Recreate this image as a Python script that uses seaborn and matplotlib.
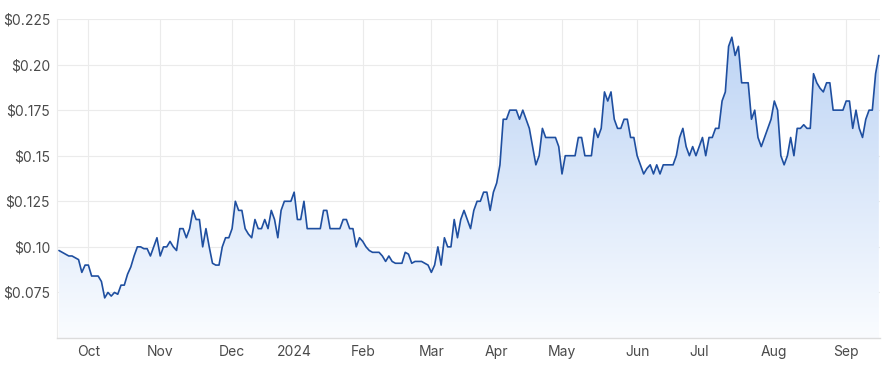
import numpy as np
import pandas as pd
import matplotlib
matplotlib.use("Agg")
import matplotlib.pyplot as plt
import seaborn as sns
from matplotlib.colors import LinearSegmentedColormap

# ---- data ----
start_date = "2023-09-19"
end_date = "2024-09-16"
asx_holidays = ["2023-12-25", "2023-12-26", "2024-01-01", "2024-01-26",
                "2024-03-29", "2024-04-01", "2024-04-25", "2024-06-10"]

prices = [
    0.098, 0.097, 0.096, 0.095, 0.095, 0.094, 0.093, 0.086, 0.090, 0.090,
    0.084, 0.084, 0.084, 0.081, 0.072, 0.075, 0.073, 0.075, 0.074, 0.079,
    0.079, 0.085, 0.089, 0.095, 0.100, 0.100, 0.099, 0.099, 0.095, 0.100,
    0.105, 0.095, 0.100, 0.100, 0.103, 0.100, 0.098, 0.110, 0.110, 0.105,
    0.110, 0.120, 0.115, 0.115, 0.100, 0.110, 0.100, 0.091, 0.090, 0.090,
    0.100, 0.105, 0.105, 0.110, 0.125, 0.120, 0.120, 0.110, 0.107, 0.105,
    0.115, 0.110, 0.110, 0.115, 0.110, 0.120, 0.115, 0.105, 0.120, 0.125,
    0.125, 0.125, 0.130, 0.115, 0.115, 0.125, 0.110, 0.110, 0.110, 0.110,
    0.110, 0.120, 0.120, 0.110, 0.110, 0.110, 0.110, 0.115, 0.115, 0.110,
    0.110, 0.100, 0.105, 0.103, 0.100, 0.098, 0.097, 0.097, 0.097, 0.095,
    0.092, 0.095, 0.092, 0.091, 0.091, 0.091, 0.097, 0.096, 0.091, 0.092,
    0.092, 0.092, 0.091, 0.090, 0.086, 0.090, 0.100, 0.090, 0.105, 0.100,
    0.100, 0.115, 0.105, 0.115, 0.120, 0.115, 0.110, 0.120, 0.125, 0.125,
    0.130, 0.130, 0.120, 0.130, 0.135, 0.145, 0.170, 0.170, 0.175, 0.175,
    0.175, 0.170, 0.175, 0.170, 0.165, 0.155, 0.145, 0.150, 0.165, 0.160,
    0.160, 0.160, 0.160, 0.155, 0.140, 0.150, 0.150, 0.150, 0.150, 0.160,
    0.160, 0.150, 0.150, 0.150, 0.165, 0.160, 0.165, 0.185, 0.180, 0.185,
    0.170, 0.165, 0.165, 0.170, 0.170, 0.160, 0.160, 0.150, 0.145, 0.140,
    0.143, 0.145, 0.140, 0.145, 0.140, 0.145, 0.145, 0.145, 0.145, 0.150,
    0.160, 0.165, 0.155, 0.150, 0.155, 0.150, 0.155, 0.160, 0.150, 0.160,
    0.160, 0.165, 0.165, 0.180, 0.185, 0.210, 0.215, 0.205, 0.210, 0.190,
    0.190, 0.190, 0.170, 0.175, 0.160, 0.155, 0.160, 0.165, 0.170, 0.180,
    0.175, 0.150, 0.145, 0.150, 0.160, 0.150, 0.165, 0.165, 0.167, 0.165,
    0.165, 0.195, 0.190, 0.187, 0.185, 0.190, 0.190, 0.175, 0.175, 0.175,
    0.175, 0.180, 0.180, 0.165, 0.175, 0.165, 0.160, 0.170, 0.175, 0.175,
    0.195, 0.205,
]

y_ticks = [0.075, 0.10, 0.125, 0.15, 0.175, 0.20, 0.225]
y_tick_labels = ["$0.075", "$0.10", "$0.125", "$0.15", "$0.175", "$0.20", "$0.225"]

# ---- build frame ----
dates = pd.bdate_range(start_date, end_date)
dates = dates[~dates.isin(pd.to_datetime(asx_holidays))]
n = min(len(dates), len(prices))
df = pd.DataFrame({"date": dates[:n], "price": prices[:n]})
df["idx"] = np.arange(n)

# month-start tick positions (first trading day of each month)
first_days = df.groupby([df.date.dt.year, df.date.dt.month]).head(1)
first_days = first_days[first_days.idx > 0]
x_ticks = first_days.idx.tolist()
x_labels = [str(d.year) if d.month == 1 else d.strftime("%b") for d in first_days.date]

# ---- style ----
sns.set_theme(style="white")
plt.rcParams["font.family"] = ["Inter", "DejaVu Sans"]

fig = plt.figure(figsize=(8.85, 3.65), dpi=100)
ax = fig.add_axes([57 / 885, 27 / 365, 823 / 885, 319 / 365])

y_min, y_max = 0.05, 0.225
x_min, x_max = -0.6, n - 1 + 0.35

# gradient fill under the line
poly = ax.fill_between(df.idx, df.price, y_min, color="none", lw=0)
cmap = LinearSegmentedColormap.from_list("g", ["#fafcff", "#bad2f4"])
grad = np.linspace(0, 1, 256).reshape(-1, 1)
img = ax.imshow(grad, extent=[x_min, x_max, y_min, y_max], origin="lower",
                aspect="auto", cmap=cmap, zorder=1, interpolation="bicubic")
img.set_clip_path(poly.get_paths()[0], ax.transData)

sns.lineplot(data=df, x="idx", y="price", ax=ax, color="#1f4fa0",
             linewidth=1.2, zorder=3)

ax.set_xlim(x_min, x_max)
ax.set_ylim(y_min, y_max)
ax.set_xticks(x_ticks)
ax.set_xticklabels(x_labels)
ax.set_yticks(y_ticks)
ax.set_yticklabels(y_tick_labels)
ax.set_xlabel("")
ax.set_ylabel("")

ax.grid(True, color="#ebebeb", linewidth=0.8, zorder=0)
ax.set_axisbelow(True)
ax.tick_params(axis="both", length=0, labelsize=10, labelcolor="#4a4a4a")
ax.tick_params(axis="y", pad=5)
ax.tick_params(axis="x", pad=5)

for side in ["top", "right"]:
    ax.spines[side].set_visible(False)
ax.spines["left"].set_color("#ebebeb")
ax.spines["left"].set_linewidth(0.8)
ax.spines["bottom"].set_color("#dcdcdc")
ax.spines["bottom"].set_linewidth(1.0)

fig.savefig("out.png", dpi=100)
